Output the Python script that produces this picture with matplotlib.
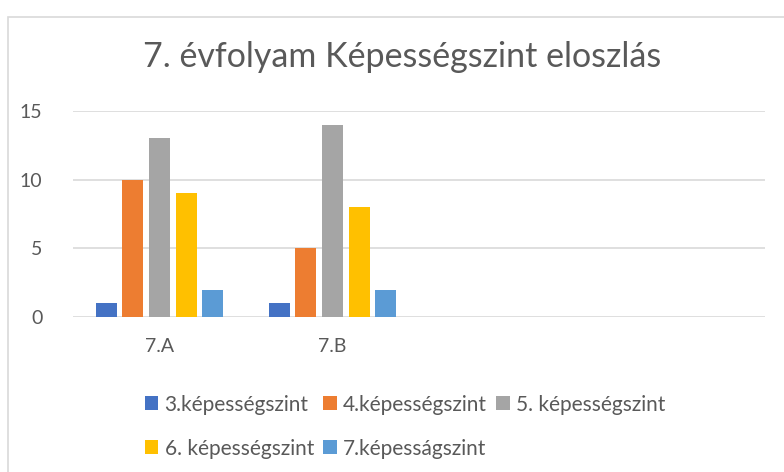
import matplotlib
matplotlib.use("Agg")
import matplotlib.pyplot as plt
import numpy as np
from matplotlib.patches import Rectangle

plt.rcParams['font.family'] = ['Lato', 'DejaVu Sans']

categories = ["7.A", "7.B", "", ""]
series_names = ["3.képességszint", "4.képességszint", "5. képességszint",
                "6. képességszint", "7.képesságszint"]
s3 = [1, 1, 0, 0]
s4 = [10, 5, 0, 0]
s5 = [13, 14, 0, 0]
s6 = [9, 8, 0, 0]
s7 = [2, 2, 0, 0]
values = [s3, s4, s5, s6, s7]
colors = ["#4472C4", "#ED7D31", "#A5A5A5", "#FFC000", "#5B9BD5"]
yticks = [0, 5, 10, 15]
title = "7. évfolyam Képességszint eloszlás"

W, H = 784, 472
fig = plt.figure(figsize=(W/100, H/100), dpi=100)
fig.patches.append(Rectangle((8/W, -0.01), 1.0, 1 - 17/H + 0.01, transform=fig.transFigure,
                             fill=False, edgecolor="#D9D9D9", linewidth=1.2))

ax = fig.add_axes([73/W, 1-317/H, (765-73)/W, (317-111)/H])
x = np.arange(len(categories))
pitch = 0.154
width = 0.122
handles = []
for i, (vals, c) in enumerate(zip(values, colors)):
    xs = x + (i - 2) * pitch
    hv = [v if v else np.nan for v in vals]
    b = ax.bar(xs, hv, width=width, color=c, label=series_names[i], zorder=3)
    handles.append(b)

ax.set_xlim(-0.5, len(categories) - 0.5)
ax.set_ylim(0, 15)
ax.set_yticks(yticks)
ax.set_xticks(x)
ax.set_xticklabels(categories)
for s in ax.spines.values():
    s.set_visible(False)
ax.grid(axis='y', color="#D9D9D9", linewidth=1.2, zorder=0)
ax.tick_params(axis='both', length=0, labelsize=14, colors="#595959")
ax.tick_params(axis='y', pad=22)
ax.tick_params(axis='x', pad=15)

fig.text(402/W, 1-57/H, title, ha='center', va='center', fontsize=24.5, color="#595959")

order = [0, 3, 1, 4, 2]
leg = fig.legend([handles[i] for i in order], [series_names[i] for i in order],
                 ncol=3, loc='upper left', bbox_to_anchor=(126/W, 1-376/H),
                 frameon=False, fontsize=15, labelcolor="#595959",
                 handlelength=0.65, handleheight=0.65, handletextpad=0.3,
                 columnspacing=0.45, labelspacing=1.15)

fig.savefig("out.png", dpi=100)
